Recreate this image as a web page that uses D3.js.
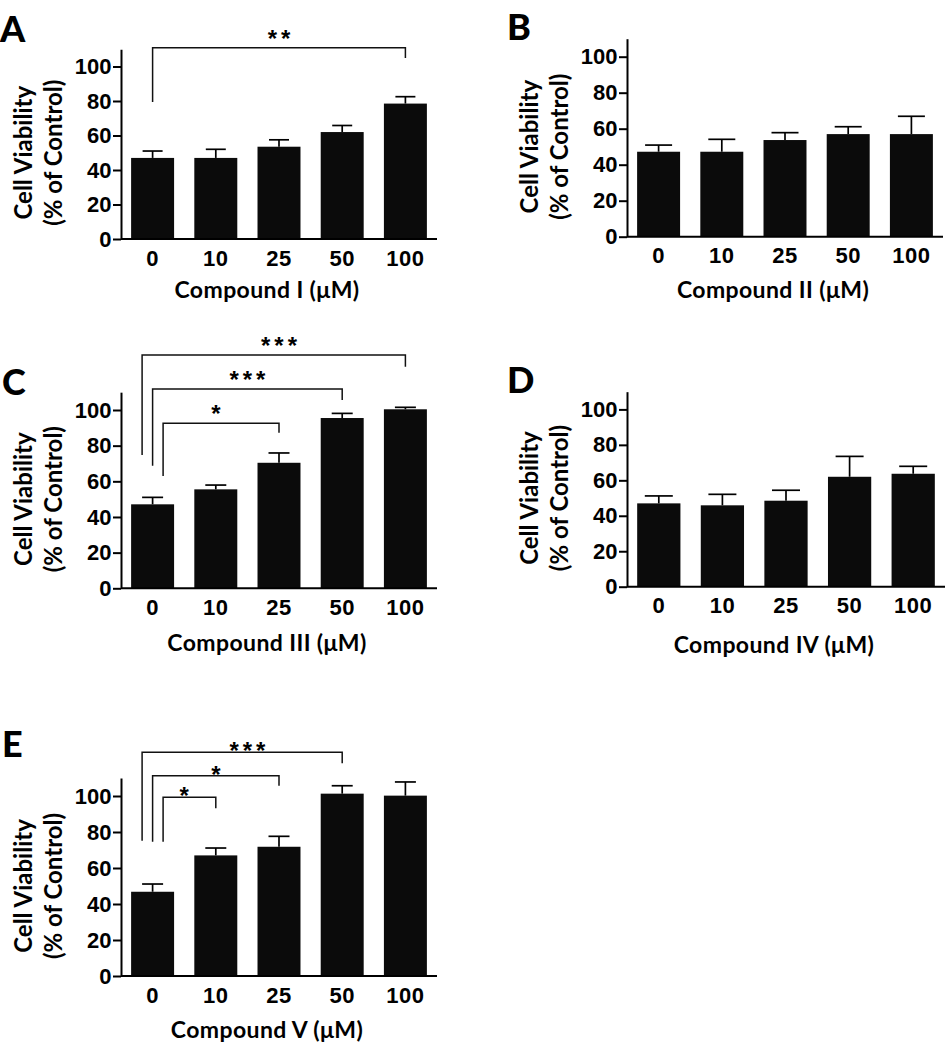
<!DOCTYPE html>
<html>
<head>
<meta charset="utf-8">
<script src="https://cdn.jsdelivr.net/npm/d3@7"></script>
<style>
  body { margin: 0; background: #fff; }
  svg { display: block; }
</style>
</head>
<body>
<script>
// ---------------- data ----------------
const doses = ["0", "10", "25", "50", "100"];
const yTicks = [0, 20, 40, 60, 80, 100];

const meansA = [47, 47, 53.5, 62, 78.5];
const errA   = [4, 5, 4, 3.8, 4];
const meansB = [47.2, 47.2, 53.7, 57, 57];
const errB   = [3.7, 6.9, 4.1, 4.1, 9.9];
const meansC = [47.1, 55.5, 70.4, 95.5, 100.4];
const errC   = [3.9, 2.4, 5.5, 2.6, 1.1];
const meansD = [47, 45.9, 48.5, 62, 63.7];
const errD   = [4.2, 6.2, 5.9, 11.5, 4.2];
const meansE = [46.8, 67, 71.8, 101.3, 100.2];
const errE   = [4.3, 4.1, 5.8, 4.4, 7.6];

// significance brackets: from bar, to bar, bracket level, left leg end, right leg end (data units), label
const bracketsA = [
  { from: 0, to: 4, level: 110.9, leftEnd: 79.4, rightEnd: 104.9, label: "**" }
];
const bracketsB = [];
const bracketsC = [
  { from: 0, to: 4, level: 130.9, leftEnd: 74.8, rightEnd: 124.3, label: "***" },
  { from: 0, to: 3, level: 111.8, leftEnd: 68.8, rightEnd: 105.6, label: "***" },
  { from: 0, to: 2, level: 92.5,  leftEnd: 63.0, rightEnd: 87.3,  label: "*" }
];
const bracketsD = [];
const bracketsE = [
  { from: 0, to: 3, level: 124.3, leftEnd: 75.2, rightEnd: 118.2, label: "***" },
  { from: 0, to: 2, level: 111.3, leftEnd: 74.6, rightEnd: 105.7, label: "*" },
  { from: 0, to: 1, level: 99.3,  leftEnd: 74.6, rightEnd: 93.2,  label: "*" }
];

const xTitles = ["Compound I (μM)", "Compound II (μM)", "Compound III (μM)", "Compound IV (μM)", "Compound V (μM)"];
const letters = ["A", "B", "C", "D", "E"];
const yTitle1 = "Cell Viability";
const yTitle2 = "(% of Control)";

// ---------------- layout ----------------
const panels = [
  { letter: letters[0], means: meansA, errs: errA, brackets: bracketsA, title: xTitles[0],
    x0: 121, x1: 437, base: 239, k: 1.725, lx: 0, ly: 42, cap: 10, titleGap: 59, starGap: -1 },
  { letter: letters[1], means: meansB, errs: errB, brackets: bracketsB, title: xTitles[1],
    x0: 627, x1: 943, base: 236.7, k: 1.8, lx: 507, ly: 40, cap: 13.5, titleGap: 61, starGap: -1 },
  { letter: letters[2], means: meansC, errs: errC, brackets: bracketsC, title: xTitles[2],
    x0: 121, x1: 437, base: 588.3, k: 1.783, lx: 2, ly: 395, cap: 10.5, titleGap: 63, starGap: -1 },
  { letter: letters[3], means: meansD, errs: errD, brackets: bracketsD, title: xTitles[3],
    x0: 627, x1: 945, base: 586.7, k: 1.773, lx: 507, ly: 393, cap: 14, titleGap: 66, starGap: -1 },
  { letter: letters[4], means: meansE, errs: errE, brackets: bracketsE, title: xTitles[4],
    x0: 121, x1: 437, base: 976, k: 1.8, lx: 2, ly: 757, cap: 10.5, titleGap: 62, starGap: 7 }
];

const tickFont = "'Liberation Sans', Arial, sans-serif";
const titleFont = "Lato, 'Open Sans', sans-serif";

const svg = d3.select("body").append("svg")
  .attr("width", 947).attr("height", 1050);

panels.forEach(p => {
  const g = svg.append("g");
  const y = d3.scaleLinear().domain([0, 110]).range([p.base, p.base - 110 * p.k]);
  const x = d3.scaleBand().domain(doses).range([p.x0, p.x1]).paddingInner(0.32).paddingOuter(0.16);
  const cx = i => x(doses[i]) + x.bandwidth() / 2;

  // bars
  g.selectAll("rect.bar").data(p.means).enter().append("rect")
    .attr("class", "bar")
    .attr("x", (d, i) => x(doses[i]))
    .attr("width", x.bandwidth())
    .attr("y", d => y(d))
    .attr("height", d => y(0) - y(d))
    .attr("fill", "#0b0b0b");

  // error bars (upper only)
  const eg = g.selectAll("g.err").data(p.means).enter().append("g").attr("class", "err");
  eg.append("line")
    .attr("x1", (d, i) => cx(i)).attr("x2", (d, i) => cx(i))
    .attr("y1", d => y(d)).attr("y2", (d, i) => y(d + p.errs[i]))
    .attr("stroke", "#000").attr("stroke-width", 1.7);
  eg.append("line")
    .attr("x1", (d, i) => cx(i) - p.cap).attr("x2", (d, i) => cx(i) + p.cap)
    .attr("y1", (d, i) => y(d + p.errs[i])).attr("y2", (d, i) => y(d + p.errs[i]))
    .attr("stroke", "#000").attr("stroke-width", 1.7);

  // y axis
  const yAxis = g.append("g")
    .attr("transform", `translate(${p.x0},0)`)
    .call(d3.axisLeft(y).tickValues(yTicks).tickSize(8).tickPadding(1.5).tickSizeOuter(0));
  yAxis.select(".domain").attr("stroke", "#000").attr("stroke-width", 2);
  yAxis.selectAll(".tick line").attr("stroke", "#000").attr("stroke-width", 2);
  yAxis.selectAll(".tick text")
    .attr("font-family", tickFont).attr("font-weight", "bold").attr("font-size", 22)
    .attr("fill", "#000");

  // x axis
  const xAxis = g.append("g")
    .attr("transform", `translate(0,${p.base})`)
    .call(d3.axisBottom(x).tickSize(0).tickPadding(11));
  xAxis.select(".domain").attr("stroke", "#000").attr("stroke-width", 2)
    .attr("d", `M${p.x0},0H${p.x1}`);
  xAxis.selectAll(".tick text")
    .attr("font-family", tickFont).attr("font-weight", "bold").attr("font-size", 22)
    .attr("letter-spacing", 0.5).attr("fill", "#000");

  // x title
  g.append("text")
    .attr("x", (p.x0 + p.x1) / 2 - 12)
    .attr("y", p.base + p.titleGap)
    .attr("text-anchor", "middle")
    .attr("font-family", titleFont).attr("font-weight", "bold").attr("font-size", 23)
    .attr("letter-spacing", 0.4)
    .text(p.title);

  // y title (two lines, rotated)
  const yc = y(50);
  [[yTitle1, p.x0 - 89], [yTitle2, p.x0 - 59]].forEach(([t, bx]) => {
    g.append("text")
      .attr("transform", `translate(${bx},${yc}) rotate(-90)`)
      .attr("text-anchor", "middle")
      .attr("font-family", titleFont).attr("font-weight", "bold").attr("font-size", 24)
      .text(t);
  });

  // panel letter
  g.append("text")
    .attr("x", p.lx).attr("y", p.ly)
    .attr("font-family", titleFont).attr("font-weight", "900").attr("font-size", 36)
    .text(p.letter);

  // significance brackets
  const n = p.brackets.length;
  p.brackets.forEach((b, r) => {
    const off = n > 1 ? (r - (n - 1) / 2) * 10.5 : 0;
    const xl = cx(b.from) + off;
    const xr = cx(b.to);
    const yl = y(b.level);
    g.append("path")
      .attr("d", `M${xl},${y(b.leftEnd)}V${yl}H${xr}V${y(b.rightEnd)}`)
      .attr("fill", "none").attr("stroke", "#111").attr("stroke-width", 1.5);
    g.append("text")
      .attr("x", (cx(b.from) + xr) / 2 + 2)
      .attr("y", yl + p.starGap)
      .attr("text-anchor", "middle")
      .attr("letter-spacing", 4)
      .attr("font-family", tickFont).attr("font-weight", "bold").attr("font-size", 24)
      .text(b.label);
  });
});
</script>
</body>
</html>
